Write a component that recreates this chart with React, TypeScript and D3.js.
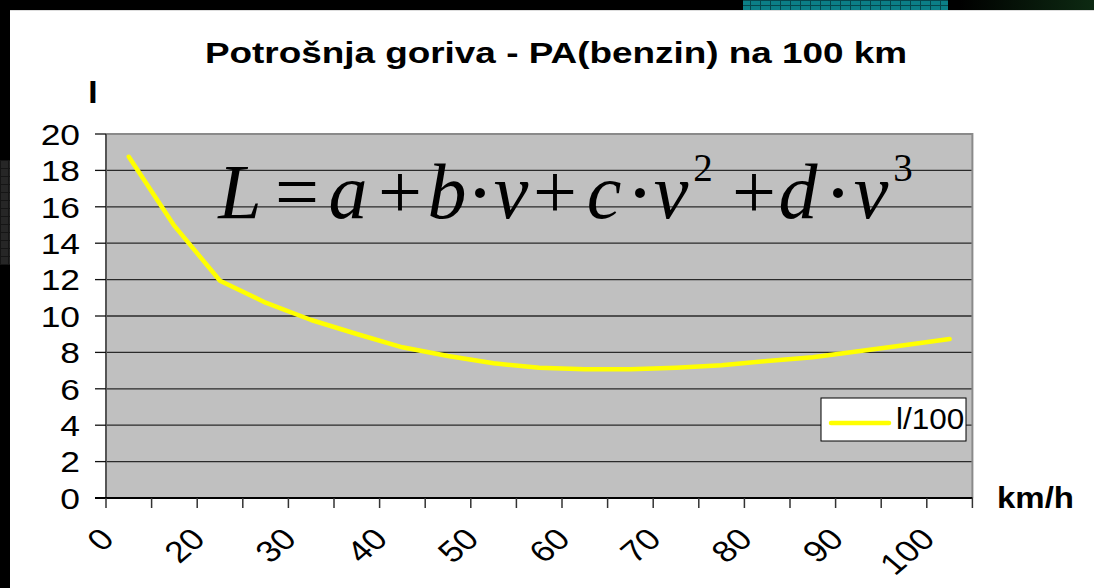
import React from "react";
import * as d3 from "d3";

// chart values
const speeds = ["0", "10", "20", "25", "30", "35", "40", "45", "50", "55", "60", "65", "70", "75", "80", "85", "90", "95", "100"];
const consumption = [18.75, 14.95, 11.94, 10.73, 9.78, 9.01, 8.28, 7.8, 7.4, 7.16, 7.07, 7.07, 7.16, 7.29, 7.53, 7.73, 8.06, 8.39, 8.74];
const shownLabels = ["0", "20", "30", "40", "50", "60", "70", "80", "90", "100"];
const yTicks = [0, 2, 4, 6, 8, 10, 12, 14, 16, 18, 20];
const title = "Potrošnja goriva - PA(benzin) na 100 km";
const yTitle = "l";
const xTitle = "km/h";
const seriesName = "l/100";

// formula written over the plot
const formula = [
  { t: "L", it: true, cx: 240 },
  { t: "=", cx: 297 },
  { t: "a", it: true, cx: 348 },
  { t: "+", cx: 400 },
  { t: "b", it: true, cx: 447 },
  { t: "·", cx: 480, dot: true },
  { t: "v", it: true, cx: 511 },
  { t: "+", cx: 555 },
  { t: "c", it: true, cx: 604 },
  { t: "·", cx: 640, dot: true },
  { t: "v", it: true, cx: 671 },
  { t: "2", cx: 703, sup: true },
  { t: "+", cx: 754 },
  { t: "d", it: true, cx: 798 },
  { t: "·", cx: 838, dot: true },
  { t: "v", it: true, cx: 871 },
  { t: "3", cx: 903, sup: true },
];

const W = 1094;
const H = 588;
const SX = 1.18; // picture is stretched horizontally
const SANS = "'Liberation Sans', Arial, sans-serif";
const SERIF = "'Liberation Serif', 'Times New Roman', serif";
const plot = { left: 106, right: 972.4, top: 134, bottom: 498 };

function SText(props: any) {
  const { x, y, size = 30, weight = "normal", anchor = "start", rotate, sx = SX, children } = props;
  return (
    <text
      transform={`translate(${x},${y}) scale(${sx},1)${rotate ? ` rotate(${rotate})` : ""}`}
      fontFamily={SANS}
      fontSize={size}
      fontWeight={weight}
      textAnchor={anchor}
      fill="#000"
    >
      {children}
    </text>
  );
}

export default function App() {
  const x = d3.scaleBand().domain(speeds).range([plot.left, plot.right]).padding(0);
  const y = d3.scaleLinear().domain([0, 20]).range([plot.bottom, plot.top]);
  const cx = (s: string) => (x(s) as number) + x.bandwidth() / 2;
  const line = d3
    .line<number>()
    .x((_, i) => cx(speeds[i]))
    .y((d) => y(d));
  const bounds = speeds.map((s) => x(s) as number).concat([plot.right]);

  return (
    <div>
      <style>{"body{margin:0;background:#000}"}</style>
      <svg width={W} height={H} style={{ display: "block" }}>
        <defs>
          <pattern id="tiles" width="10" height="5" patternUnits="userSpaceOnUse">
            <rect width="10" height="5" fill="#0b7f86" />
            <rect width="10" height="1" fill="#06474c" />
            <rect width="1" height="5" fill="#06474c" />
          </pattern>
          <pattern id="greyTiles" width="8" height="8" patternUnits="userSpaceOnUse">
            <rect width="8" height="8" fill="#262626" />
            <rect width="8" height="1" fill="#151515" />
            <rect width="1" height="8" fill="#151515" />
          </pattern>
          <linearGradient id="glow" x1="0" x2="1" y1="0" y2="0">
            <stop offset="0" stopColor="#000" />
            <stop offset="1" stopColor="#0d2a12" />
          </linearGradient>
        </defs>

        {/* background */}
        <rect width={W} height={H} fill="#000" />
        <rect x={743} y={0} width={205} height={10} fill="url(#tiles)" />
        <rect x={960} y={0} width={134} height={10} fill="url(#glow)" />
        <rect x={0} y={160} width={10} height={105} fill="url(#greyTiles)" />
        <rect x={10} y={10} width={W - 10} height={H - 10} fill="#fff" />
        <line x1={10} x2={W} y1={10.5} y2={10.5} stroke="#ddd" />

        {/* plot area */}
        <rect x={plot.left} y={plot.top} width={plot.right - plot.left} height={plot.bottom - plot.top} fill="#c0c0c0" />
        {yTicks.filter((t) => t > 0 && t < 20).map((t) => (
          <line key={t} x1={plot.left} x2={plot.right} y1={y(t)} y2={y(t)} stroke="#2a2a2a" strokeWidth={1.3} />
        ))}
        <path
          d={`M${plot.left},${plot.top}H${plot.right}V${plot.bottom}`}
          fill="none"
          stroke="#8a8a8a"
          strokeWidth={2}
        />

        {/* formula */}
        <g fontFamily={SERIF} fill="#000">
          {formula.map((f, i) => (
            <text
              key={i}
              x={f.cx}
              y={f.sup ? 181 : f.dot ? 221 : 218}
              fontSize={f.sup ? 39 : f.dot ? 84 : 78}
              fontStyle={f.it ? "italic" : "normal"}
              textAnchor="middle"
            >
              {f.t}
            </text>
          ))}
        </g>

        {/* series */}
        <path d={line(consumption) || ""} fill="none" stroke="#ffff00" strokeWidth={4.5} strokeLinejoin="round" strokeLinecap="round" />

        {/* y axis */}
        <line x1={plot.left} x2={plot.left} y1={plot.top} y2={plot.bottom} stroke="#555" strokeWidth={2} />
        {yTicks.map((t) => (
          <g key={t}>
            <line x1={95} x2={plot.left} y1={y(t)} y2={y(t)} stroke="#111" strokeWidth={1.3} />
            <SText x={80} y={y(t) + 10.8} anchor="end">
              {t}
            </SText>
          </g>
        ))}
        <SText x={88} y={103} weight="bold">
          {yTitle}
        </SText>

        {/* x axis */}
        <line x1={95} x2={plot.right} y1={plot.bottom} y2={plot.bottom} stroke="#000" strokeWidth={2} />
        {bounds.map((b, i) => (
          <line key={i} x1={b} x2={b} y1={plot.bottom} y2={plot.bottom + 10} stroke="#333" strokeWidth={1.5} />
        ))}
        {speeds.map((s, i) =>
          shownLabels.includes(s) && i % 2 === 0 ? (
            <SText key={s} x={cx(s) - 13} y={541} anchor="end" rotate={-45}>
              {s}
            </SText>
          ) : null
        )}
        <SText x={997} y={508} weight="bold" sx={1.1}>
          {xTitle}
        </SText>

        {/* title */}
        <SText x={556} y={63} weight="bold" anchor="middle" sx={1.23}>
          {title}
        </SText>

        {/* legend */}
        <rect x={821} y={398} width={145} height={43} fill="#fff" stroke="#000" strokeWidth={1} />
        <line x1={831} x2={889} y1={423} y2={423} stroke="#ffff00" strokeWidth={4.5} strokeLinecap="round" />
        <SText x={896} y={429} sx={1.05}>
          {seriesName}
        </SText>
      </svg>
    </div>
  );
}
